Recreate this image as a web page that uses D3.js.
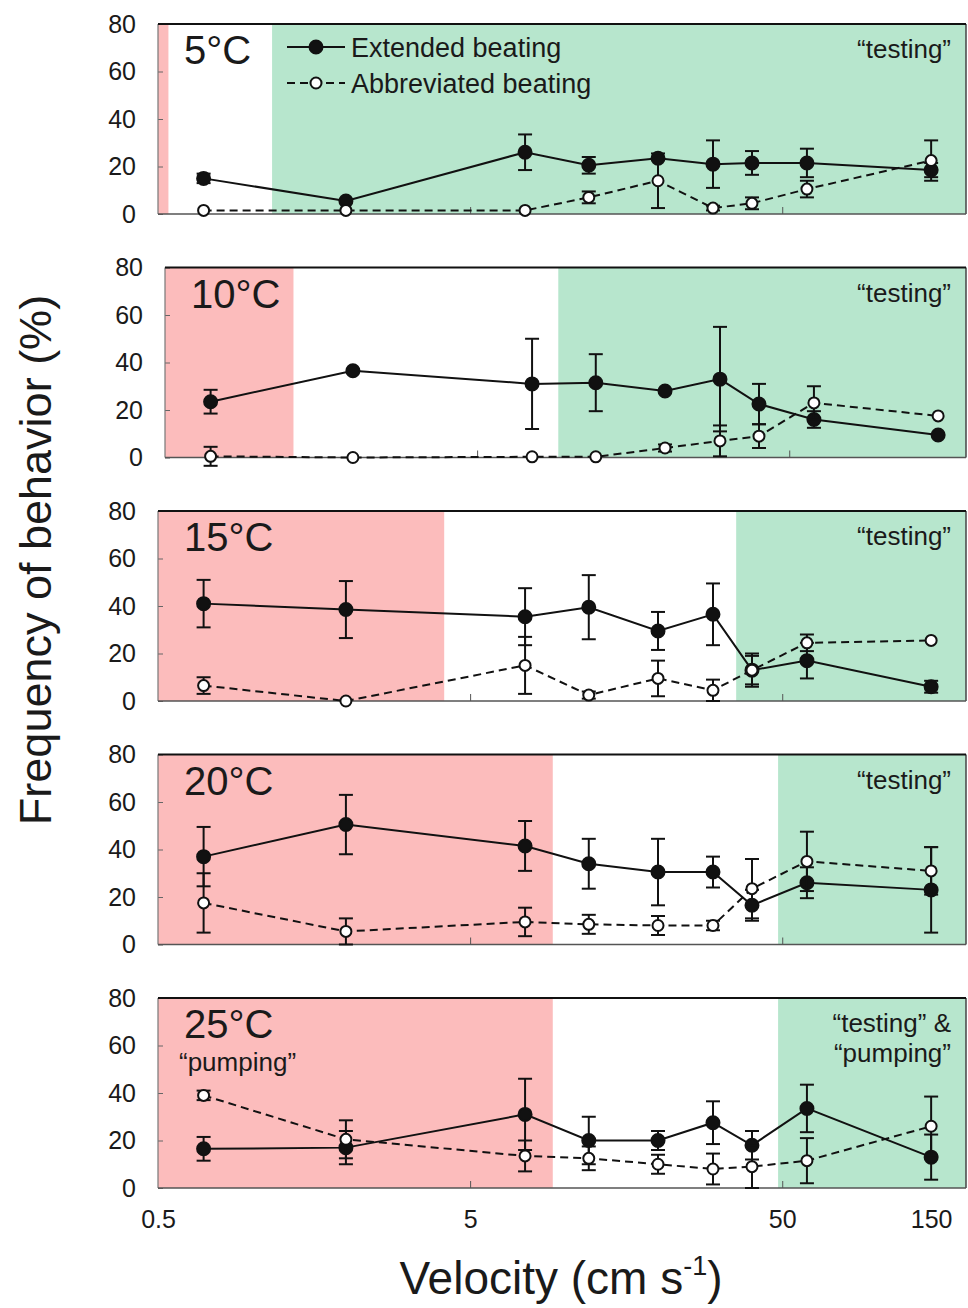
<!DOCTYPE html>
<html>
<head>
<meta charset="utf-8">
<script src="https://cdn.jsdelivr.net/npm/d3@7"></script>
<style>
  body { margin: 0; background: #fff; }
  text { font-family: "Liberation Sans", Arial, sans-serif; fill: #1a1a1a; }
</style>
</head>
<body>
<svg id="chart" width="968" height="1308"></svg>
<script>
// data
var temps = ["5°C", "10°C", "15°C", "20°C", "25°C"];
var velocity = [0.7, 2, 7.5, 12, 20, 30, 40, 60, 150];
var xTicks = [0.5, 5, 50, 150];
var yTicks = [0, 20, 40, 60, 80];

var extMean = [
  [15, 5.5, 26, 20.5, 23.5, 21, 21.5, 21.5, 18.5],
  [23.5, 36.5, 31, 31.5, 28, 33, 22.5, 16, 9.5],
  [41, 38.5, 35.5, 39.5, 29.5, 36.5, 13, 17, 6],
  [37, 50.5, 41.5, 34, 30.5, 30.5, 16.5, 26, 23],
  [16.5, 17, 31, 20, 20, 27.5, 18, 33.5, 13]
];
var extErr = [
  [2, 0, 7.5, 3.5, 0, 10, 5, 6, 3],
  [5, 0, 19, 12, 0, 22, 8.5, 3.5, 0],
  [10, 12, 12, 13.5, 8, 13, 6, 7.5, 2.5],
  [12.5, 12.5, 10.5, 10.5, 14, 6.5, 6.5, 6.5, 18],
  [5, 7, 15, 10, 4, 9, 6, 10, 9.5]
];
var abbMean = [
  [1.5, 1.5, 1.5, 7, 14, 2.5, 4.5, 10.5, 22.5],
  [0.5, 0, 0.3, 0.3, 4, 7, 9, 23, 17.5],
  [6.5, 0, 15, 2.5, 9.5, 4.5, 13, 24.5, 25.5],
  [17.5, 5.5, 9.5, 8.5, 8, 8, 23.5, 35, 31],
  [39, 20.5, 13.5, 12.5, 10, 8, 9, 11.5, 26]
];
var abbErr = [
  [0, 0, 0, 2.5, 11.5, 1, 2.5, 3.5, 8.5],
  [4, 0, 0, 0, 1.5, 6.5, 5, 7, 0],
  [3.5, 0, 12, 1.5, 7.5, 4.5, 7, 3.5, 0],
  [12.5, 5.5, 6, 4, 4, 2, 12.5, 12.5, 10],
  [2, 8, 6.5, 5, 4, 6.5, 9, 9.5, 12.5]
];
// velocity where the red zone ends and the green zone starts
var redEnd = [0.54, 1.29, 4.13, 9.2, 9.2];
var greenStart = [1.16, 9.1, 35.6, 48.5, 48.5];
var rightNotes = [["\u201Ctesting\u201D"], ["\u201Ctesting\u201D"], ["\u201Ctesting\u201D"], ["\u201Ctesting\u201D"],
                  ["\u201Ctesting\u201D &", "\u201Cpumping\u201D"]];
var leftNotes = ["", "", "", "", "\u201Cpumping\u201D"];
var legendLabels = ["Extended beating", "Abbreviated beating"];

// layout
var left = 158, right = 966, panelH = 190, top0 = 24, step = 243.5;
var shift = [0, 7, 0, 0, 0];   // 10°C panel sits a bit to the right in the original
var xMax = 194;

var svg = d3.select("#chart");

temps.forEach(function (t, p) {
  var top = top0 + p * step;
  var x0 = left + shift[p];
  var x = d3.scaleLog().domain([0.5, xMax]).range([x0, x0 + (right - left)]);
  var y = d3.scaleLinear().domain([0, 80]).range([top + panelH, top]);
  var g = svg.append("g");

  var clipId = "clip" + p;
  svg.append("clipPath").attr("id", clipId)
    .append("rect").attr("x", x0).attr("y", top).attr("width", right - x0).attr("height", panelH);

  var zones = g.append("g").attr("clip-path", "url(#" + clipId + ")");
  zones.append("rect")
    .attr("x", x0).attr("y", top)
    .attr("width", x(redEnd[p]) - x0).attr("height", panelH)
    .attr("fill", "#fcbcbc");
  zones.append("rect")
    .attr("x", x(greenStart[p])).attr("y", top)
    .attr("width", right - x(greenStart[p])).attr("height", panelH)
    .attr("fill", "#b7e6cd");

  // inner ticks
  g.append("g")
    .attr("transform", "translate(0," + (top + panelH) + ")")
    .call(d3.axisBottom(x).tickValues([5, 50]).tickSizeInner(-7).tickSizeOuter(0).tickFormat(""))
    .call(function (a) { a.select(".domain").remove(); a.selectAll("line").attr("stroke", "#555"); });

  g.append("g")
    .attr("transform", "translate(" + x0 + ",0)")
    .call(d3.axisLeft(y).tickValues(yTicks).tickSizeInner(-5).tickSizeOuter(0).tickPadding(22))
    .call(function (a) {
      a.select(".domain").remove();
      a.selectAll("line").attr("stroke", "#666");
      a.selectAll("text").style("font-size", "25px").attr("fill", "#1a1a1a");
    });

  // frame
  g.append("line").attr("x1", x0).attr("x2", x0).attr("y1", top).attr("y2", top + panelH)
    .attr("stroke", "#777").attr("stroke-width", 1.2);
  g.append("line").attr("x1", right).attr("x2", right).attr("y1", top).attr("y2", top + panelH)
    .attr("stroke", "#444").attr("stroke-width", 1.5);
  g.append("line").attr("x1", x0).attr("x2", right).attr("y1", top + panelH).attr("y2", top + panelH)
    .attr("stroke", "#555").attr("stroke-width", 1.5);
  g.append("line").attr("x1", x0).attr("x2", right).attr("y1", top).attr("y2", top)
    .attr("stroke", "#111").attr("stroke-width", 2);

  // annotations
  g.append("text").attr("x", x0 + 26).attr("y", top + 40)
    .style("font-size", "40px").text(t);
  rightNotes[p].forEach(function (s, i) {
    g.append("text").attr("x", 951).attr("y", top + 34 + i * 30)
      .attr("text-anchor", "end").style("font-size", "26px").text(s);
  });
  if (leftNotes[p]) {
    g.append("text").attr("x", x0 + 21).attr("y", top + 73)
      .style("font-size", "26px").text(leftNotes[p]);
  }

  var series = [
    { mean: extMean[p], err: extErr[p], dash: null, fill: "#111", r: 6.5 },
    { mean: abbMean[p], err: abbErr[p], dash: "8,5", fill: "#fff", r: 5.5 }
  ];

  series.forEach(function (s) {
    var pts = velocity.map(function (v, i) { return { v: v, m: s.mean[i], e: s.err[i] }; });

    var eb = g.append("g").selectAll("g").data(pts.filter(function (d) { return d.e > 0; }))
      .enter().append("g").attr("stroke", "#111").attr("stroke-width", 2);
    eb.append("line")
      .attr("x1", function (d) { return x(d.v); }).attr("x2", function (d) { return x(d.v); })
      .attr("y1", function (d) { return y(d.m - d.e); }).attr("y2", function (d) { return y(d.m + d.e); });
    eb.append("line")
      .attr("x1", function (d) { return x(d.v) - 7; }).attr("x2", function (d) { return x(d.v) + 7; })
      .attr("y1", function (d) { return y(d.m + d.e); }).attr("y2", function (d) { return y(d.m + d.e); });
    eb.append("line")
      .attr("x1", function (d) { return x(d.v) - 7; }).attr("x2", function (d) { return x(d.v) + 7; })
      .attr("y1", function (d) { return y(d.m - d.e); }).attr("y2", function (d) { return y(d.m - d.e); });

    g.append("path").datum(pts)
      .attr("fill", "none").attr("stroke", "#111").attr("stroke-width", 2)
      .attr("stroke-dasharray", s.dash)
      .attr("d", d3.line().x(function (d) { return x(d.v); }).y(function (d) { return y(d.m); }));

    g.append("g").selectAll("circle").data(pts).enter().append("circle")
      .attr("cx", function (d) { return x(d.v); }).attr("cy", function (d) { return y(d.m); })
      .attr("r", s.r).attr("fill", s.fill).attr("stroke", "#111").attr("stroke-width", 2);
  });

  if (p === 0) {
    legendLabels.forEach(function (lab, i) {
      var ly = 47 + i * 36;
      g.append("line").attr("x1", 287).attr("x2", 345).attr("y1", ly).attr("y2", ly)
        .attr("stroke", "#111").attr("stroke-width", 2).attr("stroke-dasharray", i ? "8,5" : null);
      g.append("circle").attr("cx", 316).attr("cy", ly).attr("r", series[i].r)
        .attr("fill", series[i].fill).attr("stroke", "#111").attr("stroke-width", 2);
      g.append("text").attr("x", 351).attr("y", ly + 10).style("font-size", "27px").text(lab);
    });
  }

  if (p === temps.length - 1) {
    g.append("g")
      .attr("transform", "translate(0," + (top + panelH) + ")")
      .call(d3.axisBottom(x).tickValues(xTicks).tickSize(0).tickPadding(22).tickFormat(d3.format("")))
      .call(function (a) {
        a.select(".domain").remove();
        a.selectAll("text").style("font-size", "25px").attr("fill", "#1a1a1a");
      });
  }
});

// axis titles
svg.append("text")
  .attr("transform", "translate(51,560) rotate(-90)")
  .attr("text-anchor", "middle").style("font-size", "45px")
  .text("Frequency of behavior (%)");

var xt = svg.append("text").attr("x", 561).attr("y", 1294)
  .attr("text-anchor", "middle").style("font-size", "46px");
xt.append("tspan").text("Velocity (cm s");
xt.append("tspan").attr("dy", -19).style("font-size", "27px").text("-1");
xt.append("tspan").attr("dy", 19).text(")");
</script>
</body>
</html>
